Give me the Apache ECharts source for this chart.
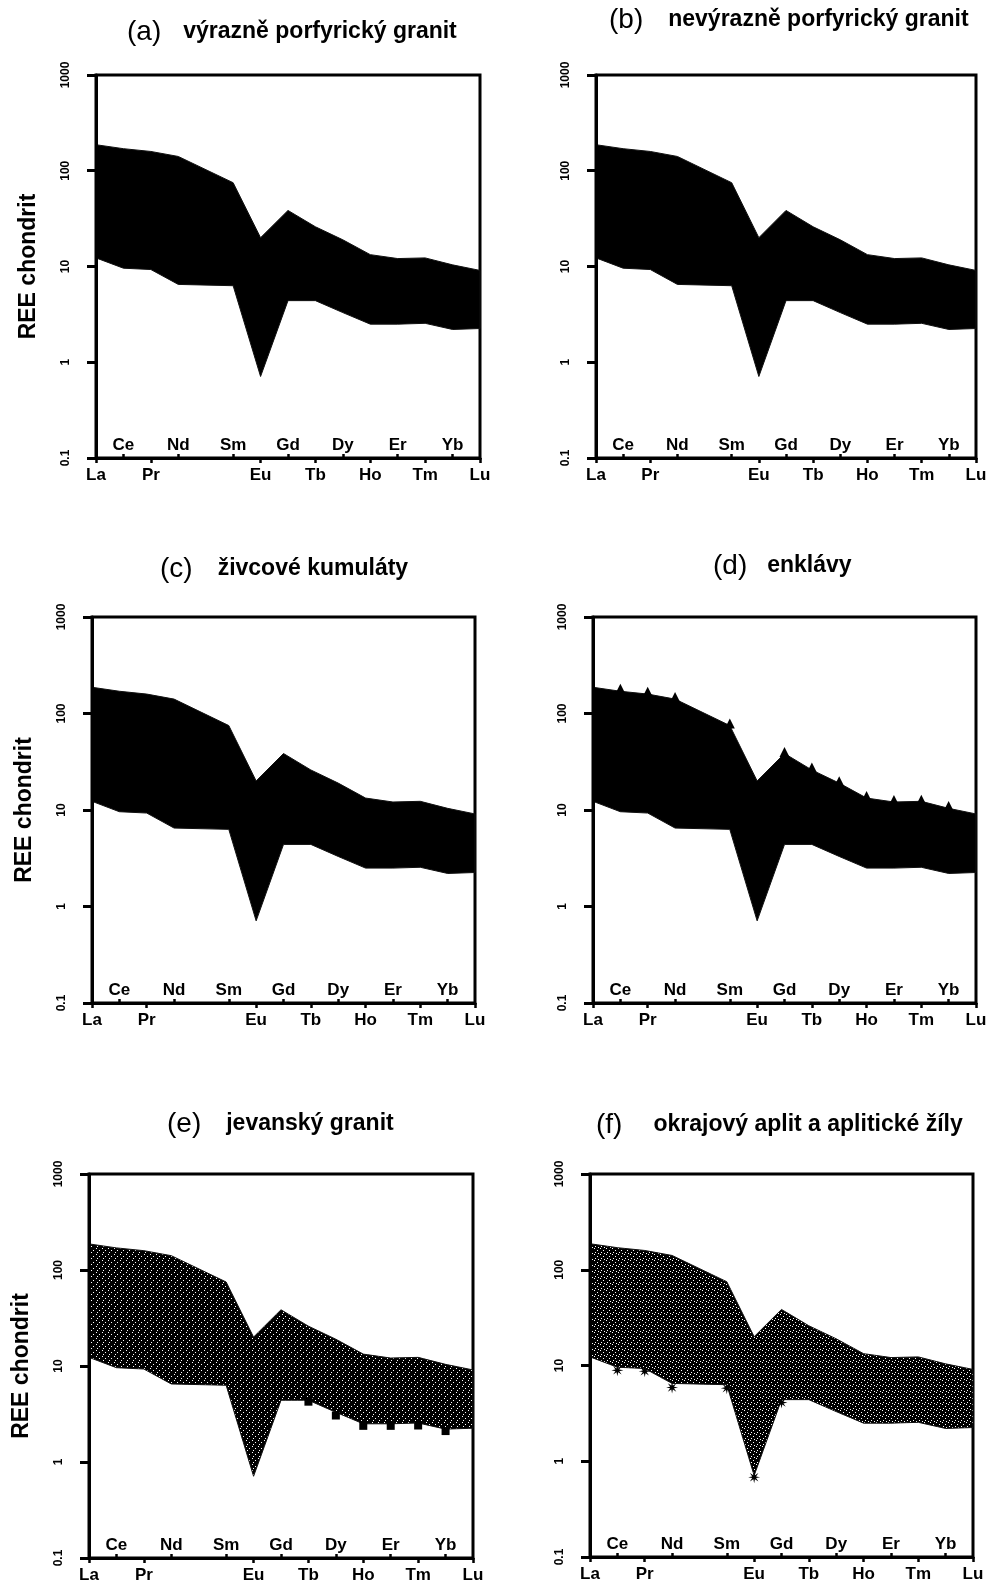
<!DOCTYPE html>
<html>
<head>
<meta charset="utf-8">
<script src="https://cdn.jsdelivr.net/npm/echarts@6/dist/echarts.min.js"></script>
<style>
  html, body { margin: 0; padding: 0; background: #fff; }
  #chart { width: 992px; height: 1584px; }
</style>
</head>
<body>
<div id="chart"></div>
<script>
// ---- data ----
const elements = ['La', 'Ce', 'Pr', 'Nd', 'Pm', 'Sm', 'Eu', 'Gd', 'Tb', 'Dy', 'Ho', 'Er', 'Tm', 'Yb', 'Lu'];
// position on the x axis of every analysed element (Pm is not analysed)
const reeIdx = [0, 1, 2, 3, 5, 6, 7, 8, 9, 10, 11, 12, 13, 14];
const upperRow = ['Ce', 'Nd', 'Sm', 'Gd', 'Dy', 'Er', 'Yb'];
const lowerRow = ['La', 'Pr', 'Eu', 'Tb', 'Ho', 'Tm', 'Lu'];

// chondrite normalised envelope of all samples
const envUpper = [187, 170, 159, 141, 75, 20, 38.5, 26, 19, 13.3, 12.1, 12.3, 10.4, 9.1];
const envLower = [12.3, 9.6, 9.3, 6.5, 6.3, 0.71, 4.4, 4.4, 3.3, 2.5, 2.5, 2.55, 2.2, 2.25];

// marked samples
const enclaveIdx = [1, 2, 3, 5, 7, 8, 9, 10, 11, 12, 13];
const enclaveVals = [180, 168, 148, 79, 40, 27.5, 19.8, 14, 12.7, 12.8, 11];
const jevanIdx = [8, 9, 10, 11, 12, 13];
const jevanVals = [4.25, 3.05, 2.38, 2.38, 2.4, 2.1];
const aplitIdx = [1, 2, 3, 5, 6, 7];
const aplitVals = [8.9, 8.7, 5.9, 5.8, 0.68, 4.1];

const panelTags = ['(a)', '(b)', '(c)', '(d)', '(e)', '(f)'];
const panelNames = [
  'výrazně porfyrický granit',
  'nevýrazně porfyrický granit',
  'živcové kumuláty',
  'enklávy',
  'jevanský granit',
  'okrajový aplit a aplitické žíly'
];

// ---- layout ----
const gridBox = [
  [96, 75, 384, 383], [596, 75, 380, 383],
  [92, 617, 383, 386], [593, 617, 383, 386],
  [89, 1174, 384, 384], [590, 1174, 383, 383]
];
const titlePos = [[127, 17, 22], [609, 5, 25], [160, 554, 25], [713, 551, 20], [167, 1109, 25], [596, 1110, 31]];

const FONT = '"Liberation Sans", Arial, Helvetica, sans-serif';

function speckle(size, dots) {
  const c = document.createElement('canvas');
  c.width = size; c.height = size;
  const g = c.getContext('2d');
  g.fillStyle = '#000';
  g.fillRect(0, 0, size, size);
  g.fillStyle = '#fff';
  dots.forEach(d => g.fillRect(d[0], d[1], 1, 1));
  return { image: c, repeat: 'repeat' };
}
const fills = [
  '#000', '#000', '#000', '#000',
  speckle(6, [[0, 0], [3, 2], [1, 4]]),
  speckle(6, [[0, 0], [3, 2], [1, 4], [4, 5]])
];

const pairs = (idx, vals) => idx.map((x, i) => [x, vals[i]]);
const tickText = v => (v >= 1 ? String(Math.round(v)) : String(+v.toPrecision(1)));

const starPath = 'path://M20 10 L13.23 11.34 L17.07 17.07 L11.34 13.23 L10 20 L8.66 13.23 L2.93 17.07 L6.77 11.34 L0 10 L6.77 8.66 L2.93 2.93 L8.66 6.77 L10 0 L11.34 6.77 L17.07 2.93 L13.23 8.66 Z';

const grid = [], xAxis = [], yAxis = [], title = [], series = [];

gridBox.forEach((b, i) => {
  grid.push({
    left: b[0], top: b[1], width: b[2], height: b[3],
    show: true, borderColor: '#000', borderWidth: 3, backgroundColor: 'transparent',
    outerBoundsMode: 'none'
  });

  // hidden value axis that carries the data
  xAxis.push({
    type: 'value', gridIndex: i, min: 0, max: 14, show: false, position: 'bottom'
  });
  // labels above the axis line (Ce, Nd, ...)
  xAxis.push({
    type: 'category', gridIndex: i, data: elements, boundaryGap: false, position: 'bottom', z: 5,
    axisLine: { show: true, onZero: false, lineStyle: { color: '#000', width: 3 } },
    axisTick: { show: true, inside: true, length: 4, interval: (k, v) => upperRow.includes(v),
      lineStyle: { color: '#000', width: 2.5 } },
    axisLabel: { inside: true, margin: 4, interval: (k, v) => upperRow.includes(v),
      color: '#000', fontSize: 17, fontWeight: 'bold', fontFamily: FONT },
    splitLine: { show: false }
  });
  // labels below the axis line (La, Pr, ...)
  xAxis.push({
    type: 'category', gridIndex: i, data: elements, boundaryGap: false, position: 'bottom', z: 5,
    axisLine: { show: false, onZero: false },
    axisTick: { show: true, length: 5, interval: (k, v) => lowerRow.includes(v),
      lineStyle: { color: '#000', width: 2.5 } },
    axisLabel: { margin: 9, interval: (k, v) => lowerRow.includes(v),
      color: '#000', fontSize: 17, fontWeight: 'bold', fontFamily: FONT },
    splitLine: { show: false }
  });

  yAxis.push({
    type: 'log', logBase: 10, min: 0.1, max: 1000, gridIndex: i, z: 5,
    name: i % 2 === 0 ? 'REE chondrit' : '',
    nameLocation: 'middle', nameRotate: 90, nameGap: 56,
    nameTextStyle: { color: '#000', fontSize: 23, fontWeight: 'bold', fontFamily: FONT },
    axisLine: { show: true, onZero: false, lineStyle: { color: '#000', width: 3 } },
    axisTick: { show: true, length: 9, lineStyle: { color: '#000', width: 3 } },
    minorTick: { show: false },
    splitLine: { show: false },
    axisLabel: { rotate: 90, margin: 24, color: '#000', fontSize: 12, fontWeight: 'bold',
      fontFamily: FONT, formatter: tickText }
  });

  title.push({
    left: titlePos[i][0], top: titlePos[i][1], padding: 0,
    text: '{l|' + panelTags[i] + '}{n|' + panelNames[i] + '}',
    textStyle: {
      rich: {
        l: { fontSize: 28, fontWeight: 'normal', fontFamily: FONT, color: '#000', lineHeight: 30 },
        n: { fontSize: 23, fontWeight: 'bold', fontFamily: FONT, color: '#000',
             padding: [0, 0, 0, titlePos[i][2]] }
      }
    }
  });

  // envelope band between the lowest and highest pattern, drawn through the axes' scales
  series.push({
    type: 'custom', xAxisIndex: 3 * i, yAxisIndex: i, silent: true, z: 2,
    data: [[reeIdx[0], envLower[0]]],
    encode: { x: 0, y: 1 },
    renderItem: function (params, api) {
      const top = reeIdx.map((x, k) => api.coord([x, envUpper[k]]));
      const bottom = reeIdx.map((x, k) => api.coord([x, envLower[k]])).reverse();
      return {
        type: 'polygon',
        shape: { points: top.concat(bottom) },
        style: { fill: fills[i], stroke: '#111', lineWidth: 1 }
      };
    }
  });
});

// sample symbols sitting on the envelope edge
series.push({
  type: 'line', xAxisIndex: 9, yAxisIndex: 3, data: pairs(enclaveIdx, enclaveVals),
  symbol: 'triangle', symbolSize: 10, itemStyle: { color: '#000' },
  lineStyle: { width: 0 }, z: 4
});
series.push({
  type: 'line', xAxisIndex: 12, yAxisIndex: 4, data: pairs(jevanIdx, jevanVals),
  symbol: 'rect', symbolSize: 8, itemStyle: { color: '#000' },
  lineStyle: { width: 0 }, z: 4
});
series.push({
  type: 'line', xAxisIndex: 15, yAxisIndex: 5, data: pairs(aplitIdx, aplitVals),
  symbol: starPath, symbolSize: 12, itemStyle: { color: '#000' },
  lineStyle: { width: 0 }, z: 4
});

const chart = echarts.init(document.getElementById('chart'), null, { renderer: 'canvas' });
chart.setOption({
  animation: false,
  backgroundColor: '#fff',
  title: title,
  grid: grid,
  xAxis: xAxis,
  yAxis: yAxis,
  series: series
});
</script>
</body>
</html>
